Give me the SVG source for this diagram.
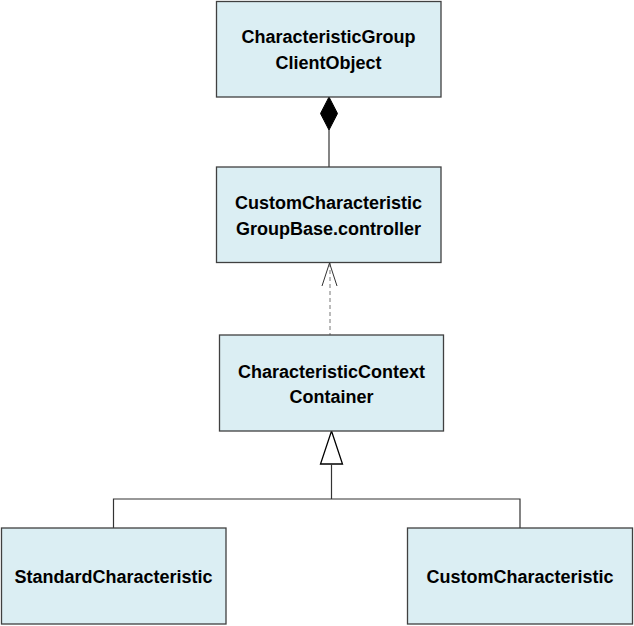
<svg xmlns="http://www.w3.org/2000/svg" width="634" height="626" viewBox="0 0 634 626">
<style>
.box{fill:#DBEEF3;stroke:#404040;stroke-width:1.3}
.lbl{font-family:"Liberation Sans",Arial,sans-serif;font-weight:bold;font-size:18px;fill:#000;text-anchor:middle}
.ln{fill:none;stroke:#333;stroke-width:1.2}
</style>
<rect width="634" height="626" fill="#fff"/>
<g id="connectors">
  <line class="ln" x1="329" y1="130" x2="329" y2="167" stroke="#777"/>
  <polygon points="329,97 337.5,113.5 329,130 320.5,113.5" fill="#000" stroke="#000" stroke-width="1"/>
  <line x1="330" y1="263" x2="330" y2="335" stroke="#777" stroke-width="1" stroke-dasharray="4,3"/>
  <polyline points="322,286 329.5,263 337,286" fill="none" stroke="#333" stroke-width="1"/>
  <polygon points="331.5,431 342.5,464 320.5,464" fill="#fff" stroke="#000" stroke-width="1.3"/>
  <polyline class="ln" points="331.5,464 331.5,499"/>
  <polyline class="ln" points="113.5,528 113.5,499 520,499 520,528"/>
</g>
<g id="node-characteristicgroup">
  <rect class="box" x="216.5" y="1.5" width="224.5" height="95.5"/>
  <text class="lbl" x="328.5" y="43">CharacteristicGroup</text>
  <text class="lbl" x="328.5" y="69">ClientObject</text>
</g>
<g id="node-customcharacteristicgroupbase">
  <rect class="box" x="216.5" y="167" width="224.5" height="95.5"/>
  <text class="lbl" x="328.5" y="209">CustomCharacteristic</text>
  <text class="lbl" x="328.5" y="234.5">GroupBase.controller</text>
</g>
<g id="node-characteristiccontextcontainer">
  <rect class="box" x="219.5" y="335" width="224" height="96"/>
  <text class="lbl" x="331.5" y="377.5">CharacteristicContext</text>
  <text class="lbl" x="331.5" y="403">Container</text>
</g>
<g id="node-standardcharacteristic">
  <rect class="box" x="1.5" y="528" width="224.5" height="96"/>
  <text class="lbl" x="113.5" y="582.5">StandardCharacteristic</text>
</g>
<g id="node-customcharacteristic">
  <rect class="box" x="407.5" y="528" width="225" height="96"/>
  <text class="lbl" x="520" y="582.5">CustomCharacteristic</text>
</g>
</svg>
